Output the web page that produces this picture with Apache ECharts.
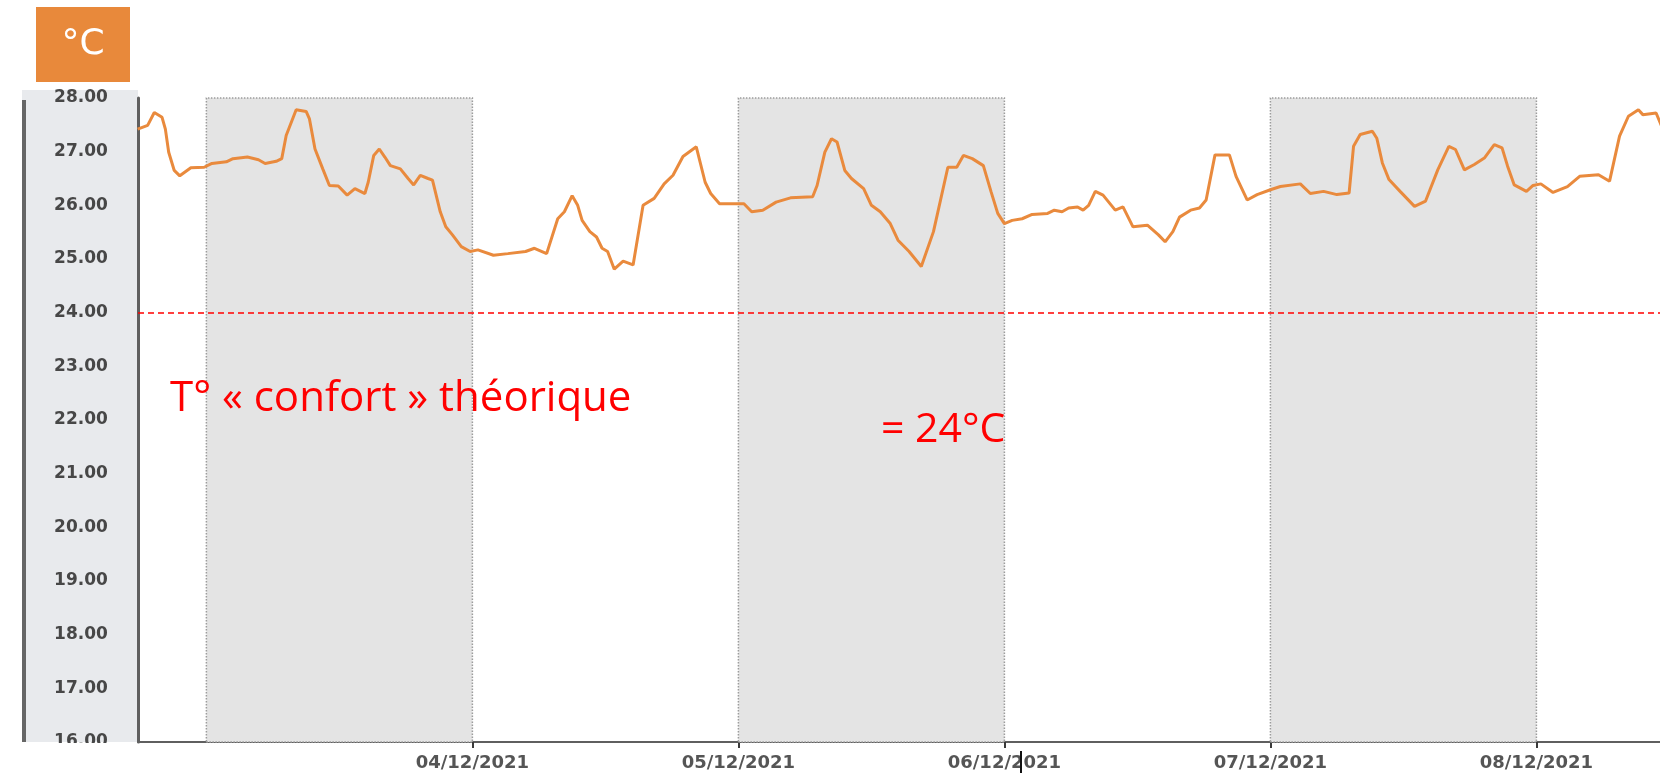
<!DOCTYPE html>
<html>
<head>
<meta charset="utf-8">
<script src="https://cdn.jsdelivr.net/npm/echarts@6/dist/echarts.min.js"></script>
<style>
  html, body { margin: 0; padding: 0; background: #fff; }
  #chart { width: 1660px; height: 776px; }
</style>
</head>
<body>
<div id="chart"></div>
<script>
// hours counted from 03/12/2021 00:00
const axisStartHour = -6.17;
const axisEndHour = 131.15;

const hours = [
  -6.2, -5.3, -4.7, -4.0, -3.7, -3.4, -2.9, -2.4, -1.4, -0.2,
  0.5, 1.8, 2.4, 3.7, 4.7, 5.3, 6.3, 6.8, 7.2, 8.1,
  9.0, 9.3, 9.8, 10.5, 11.1, 11.9, 12.7, 13.4, 14.3, 14.6,
  15.1, 15.6, 16.1, 16.6, 17.5, 18.2, 18.7, 19.3, 20.0, 20.4,
  21.1, 21.6, 22.2, 23.0, 23.8, 24.5, 25.9, 27.2, 28.8, 29.6,
  30.7, 31.7, 32.3, 33.0, 33.5, 33.9, 34.6, 35.2, 35.7, 36.2,
  36.8, 37.6, 38.5, 39.4, 40.4, 41.3, 42.1, 43.0,
  44.2, 45.0, 45.5, 46.3, 47.9, 48.5, 49.2, 50.2, 51.4, 52.7,
  54.7, 55.1, 55.8, 56.4, 56.9, 57.6, 58.2, 59.3, 60.0, 60.8,
  61.7, 62.4, 63.4, 64.5, 65.6, 66.9, 67.7, 68.3, 69.1, 70.1,
  70.8, 71.4, 72.0, 72.7, 73.6, 74.5, 75.9, 76.5, 77.2, 77.8,
  78.6, 79.1, 79.6, 80.2, 80.9, 82.0, 82.7, 83.6, 84.9, 85.9,
  86.5, 87.2, 87.8, 88.8,
  89.6, 90.2, 91.0, 92.3, 92.9, 93.9, 94.8, 96.0, 96.9, 98.7,
  99.6, 100.8, 102.0, 103.1, 103.5, 104.1, 105.2, 105.6, 106.1, 106.7,
  107.7, 109.0, 110.0, 111.1, 112.1, 112.7, 113.5, 114.4, 115.3, 116.2,
  116.9, 117.4, 118.0, 119.1, 119.7, 120.4, 121.5, 122.8, 123.9, 125.6,
  126.6, 127.5, 128.3, 129.2, 129.6, 130.8, 131.3
];

const temps = [
  27.42, 27.49, 27.73, 27.64, 27.42, 26.99, 26.65, 26.55, 26.70, 26.71,
  26.78, 26.81, 26.87, 26.90, 26.85, 26.78, 26.82, 26.87, 27.30, 27.78,
  27.75, 27.61, 27.05, 26.68, 26.37, 26.36, 26.19, 26.31, 26.22, 26.43,
  26.93, 27.05, 26.90, 26.74, 26.68, 26.50, 26.38, 26.56, 26.50, 26.47,
  25.88, 25.60, 25.45, 25.23, 25.14, 25.17, 25.07, 25.10, 25.14, 25.20,
  25.10, 25.75, 25.88, 26.18, 26.00, 25.72, 25.51, 25.41, 25.20, 25.14,
  24.81, 24.96, 24.89, 26.00, 26.13, 26.40, 26.56, 26.91,
  27.09, 26.43, 26.22, 26.03, 26.03, 26.03, 25.88, 25.91, 26.06, 26.14,
  26.16, 26.37, 26.99, 27.24, 27.18, 26.65, 26.50, 26.31, 26.00, 25.88,
  25.66, 25.35, 25.14, 24.86, 25.51, 26.71, 26.71, 26.93, 26.87, 26.74,
  26.25, 25.85, 25.66, 25.72, 25.75, 25.83, 25.85, 25.91, 25.88, 25.95,
  25.97, 25.91, 26.00, 26.26, 26.19, 25.91, 25.97, 25.60, 25.63, 25.45,
  25.32, 25.51, 25.78, 25.91,
  25.95, 26.10, 26.94, 26.94, 26.54, 26.10, 26.20, 26.29, 26.35, 26.40,
  26.22, 26.26, 26.20, 26.23, 27.10, 27.32, 27.38, 27.25, 26.79, 26.48,
  26.26, 25.98, 26.08, 26.66, 27.10, 27.04, 26.66, 26.76, 26.88, 27.13,
  27.07, 26.73, 26.38, 26.26, 26.37, 26.40, 26.24, 26.35, 26.54, 26.57,
  26.45, 27.29, 27.66, 27.78, 27.69, 27.72, 27.47
];

const dayHours = [24, 48, 72, 96, 120];
const dayLabels = ['04/12/2021', '05/12/2021', '06/12/2021', '07/12/2021', '08/12/2021'];
const shadedDays = [[0, 24], [48, 72], [96, 120]];
const comfortTemp = 24;
const yMin = 16;
const yMax = 28;

const chart = echarts.init(document.getElementById('chart'));
const points = hours.map((h, i) => [h, temps[i]]);
const labelFont = 'DejaVu Sans';

const option = {
    animation: false,
    grid: { left: 138, right: 0, top: 98, bottom: 34 },
    xAxis: {
        type: 'value',
        min: axisStartHour,
        max: axisEndHour,
        axisLine: { onZero: false, lineStyle: { color: '#5f5f5f', width: 2 } },
        axisTick: {
            show: true,
            length: 6,
            customValues: dayHours,
            lineStyle: { color: '#3a3a3a', width: 2 }
        },
        axisLabel: {
            customValues: dayHours,
            formatter: v => dayLabels[dayHours.indexOf(v)] || '',
            margin: 12,
            fontFamily: labelFont,
            fontSize: 18,
            fontWeight: 'bold',
            color: '#555'
        },
        splitLine: { show: false }
    },
    yAxis: {
        type: 'value',
        min: yMin,
        max: yMax,
        interval: 1,
        axisLine: { show: true, onZero: false, lineStyle: { color: '#5f5f5f', width: 3 } },
        axisTick: { show: false },
        axisLabel: {
            formatter: v => v.toFixed(2),
            align: 'center',
            margin: 57,
            fontFamily: labelFont,
            fontSize: 17,
            fontWeight: 'bold',
            color: '#474747'
        },
        splitLine: { show: false }
    },
    series: [{
        type: 'line',
        data: points,
        showSymbol: false,
        lineStyle: { color: '#E98A3D', width: 3 },
        itemStyle: { color: '#E98A3D' },
        markArea: {
            silent: true,
            itemStyle: {
                color: '#E4E4E4',
                borderColor: '#9c9c9c',
                borderWidth: 1.5,
                borderType: 'dotted'
            },
            data: shadedDays.map(d => [{ xAxis: d[0], yAxis: yMin }, { xAxis: d[1], yAxis: yMax }])
        },
        markLine: {
            silent: true,
            symbol: 'none',
            label: { show: false },
            lineStyle: { color: '#FF0000', type: [6, 4], width: 1.5 },
            data: [{ yAxis: comfortTemp }]
        }
    }],
    graphic: [
        // y axis panel
        { type: 'rect', z: -10, shape: { x: 22, y: 90, width: 116, height: 652 }, style: { fill: '#E8EAED' } },
        { type: 'rect', z: -9, shape: { x: 22, y: 100, width: 4, height: 642 }, style: { fill: '#666' } },
        // hides the lower part of the 16.00 label, as in the original
        { type: 'rect', z: 100, shape: { x: 0, y: 743, width: 136, height: 33 }, style: { fill: '#fff' } },
        // unit box
        { type: 'rect', z: 10, shape: { x: 36, y: 7, width: 94, height: 75 }, style: { fill: '#E8893B' } },
        {
            type: 'text', z: 11, x: 83, y: 45,
            style: { text: '°C', fill: '#fff', font: '36px "DejaVu Sans"', align: 'center', verticalAlign: 'middle' }
        },
        {
            type: 'text', z: 20, x: 170, y: 399,
            style: { text: 'T° « confort » théorique', fill: '#FF0000', font: '42px "Open Sans"', verticalAlign: 'middle' }
        },
        {
            type: 'text', z: 20, x: 881, y: 430,
            style: { text: '= 24°C', fill: '#FF0000', font: '41px "Open Sans"', verticalAlign: 'middle' }
        },
        // mouse cursor caught in the screenshot
        { type: 'line', z: 30, shape: { x1: 1021, y1: 751, x2: 1021, y2: 773 }, style: { stroke: '#111', lineWidth: 2 } }
    ]
};

chart.setOption(option);
</script>
</body>
</html>
